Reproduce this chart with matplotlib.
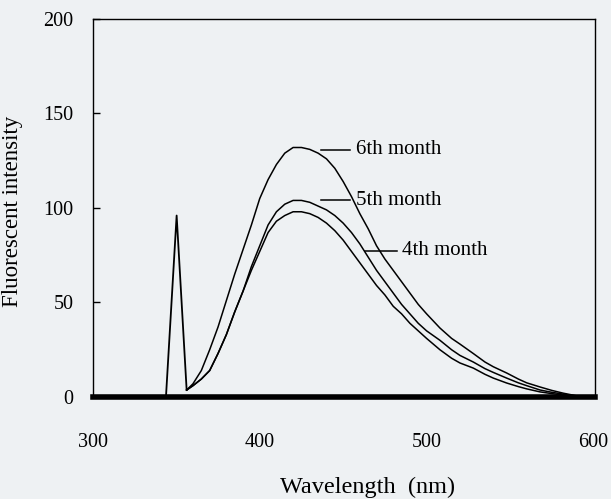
import matplotlib
matplotlib.use("Agg")
import matplotlib.pyplot as plt

plt.rcParams['font.family'] = ['Liberation Serif', 'DejaVu Serif']

# excitation scatter spike
spike_wl = [300, 343.8, 350.2, 356.2]
spike_val = [0, 0, 96, 3.7]

# emission spectra (wavelength in nm)
wl = [356.2, 360, 365, 370, 375, 380, 385, 390, 395, 400,
      405, 410, 415, 420, 425, 430, 435, 440, 445, 450,
      455, 460, 465, 470, 475, 480, 485, 490, 495, 500,
      508, 515, 520, 528, 535, 540, 548, 555, 560, 568,
      575, 582, 590, 597]
month6 = [3.7, 7, 14, 25, 37, 51, 65, 78, 91, 105,
          115, 123, 129, 132, 132, 131, 129, 126, 121, 114,
          106, 97, 89, 80, 73, 67, 61, 55, 49, 44,
          36.5, 31, 28, 23, 18.5, 16, 12.7, 9.5, 7.5, 5.3,
          3.5, 2, 0.6, 0]
month5 = [3.7, 6, 9.5, 14, 23, 33, 45, 56, 69, 80,
          91, 98, 102, 104, 104, 103, 101, 99, 96, 92,
          87, 81, 74, 67, 61, 55, 49, 44, 39, 35,
          30, 25, 22, 18.5, 15, 13, 10, 7.5, 6, 3.7,
          2.5, 1.5, 0.5, 0]
month4 = [3.7, 6, 9.5, 14, 23, 33, 45, 56, 67, 77,
          87, 93, 96, 98, 98, 97, 95, 92, 88, 83,
          77, 71, 65, 59, 54, 48, 44, 39, 35, 31,
          25, 20.5, 18, 15.3, 12, 10, 7.4, 5.5, 4.3, 2.7,
          1.8, 1, 0.3, 0]

labels = ['6th month', '5th month', '4th month']
label_y = [130.7, 104, 77.4]
label_x0 = [436.8, 436.8, 463]
label_x1 = [454.2, 454.2, 482]

bg = '#eef1f3'
fig = plt.figure(figsize=(6.11, 4.99), dpi=100, facecolor=bg)
ax = fig.add_axes([0.152, 0.2044, 0.822, 0.7576])
ax.set_facecolor(bg)

ax.plot(spike_wl, spike_val, color='black', lw=1.3)
for series in (month6, month5, month4):
    ax.plot(wl, series, color='black', lw=1.1)

for lab, y, x0, x1 in zip(labels, label_y, label_x0, label_x1):
    ax.plot([x0, x1], [y, y], color='black', lw=1.1)
    ax.text(x1 + 3.5, y, lab, fontsize=15, va='center', ha='left')

ax.set_xlim(300, 601)
ax.set_ylim(0, 200)
ax.set_xticks([300, 400, 500, 600])
ax.set_yticks([0, 50, 100, 150, 200])
ax.tick_params(axis='x', length=0, pad=26, labelsize=14.5)
ax.tick_params(axis='y', direction='in', length=5, width=1, pad=14, labelsize=14.5)

for s in ('left', 'right', 'top'):
    ax.spines[s].set_linewidth(1.0)
ax.spines['bottom'].set_linewidth(4)

ax.set_xlabel('Wavelength  (nm)', fontsize=17.5)
ax.set_ylabel('Fluorescent intensity', fontsize=16.5)
ax.xaxis.set_label_coords(0.546, -0.21)
ax.yaxis.set_label_coords(-0.14, 0.49)

fig.savefig('out.png', dpi=100, facecolor=bg)
